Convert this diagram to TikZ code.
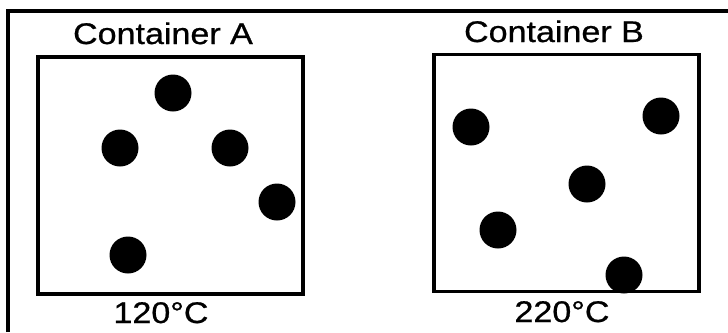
\documentclass[tikz,border=0pt]{standalone}
\usepackage{fontspec}
\setmainfont{Liberation Sans}
\newfontfamily\capfont[FakeBold=0.7]{Liberation Sans}
\usepackage{tikz}
\usetikzlibrary{positioning}
\definecolor{ink}{HTML}{000000}
\newlength{\pxu}
\setlength{\pxu}{0.02cm}
\tikzset{
  frameline/.style={draw=ink,line width=2pt},
  vessel/.style={draw=ink,line width=2pt,inner sep=0pt},
  particle/.style={circle,fill=ink,minimum size=37\pxu,inner sep=0pt},
  caption/.style={font=\capfont\fontsize{17}{19}\selectfont,xscale=1.14,inner sep=0pt,anchor=base}
}

\begin{document}
\begin{tikzpicture}[x=0.02cm,y=-0.02cm]
  \useasboundingbox (0,0) rectangle (728,332);
  % frame (only top and left edge inside the picture)
  \draw[frameline] (8,332) -- (8,11) -- (728,11);
  % particles in container A
  \node[particle] (a1) at (173,93) {};
  \node[particle] (a2) at (120,148) {};
  \node[particle] (a3) at (230,148) {};
  \node[particle] (a4) at (277,202) {};
  \node[particle] (a5) at (128,255) {};
  % particles in container B
  \node[particle] (b1) at (471,127) {};
  \node[particle] (b2) at (661,116) {};
  \node[particle] (b3) at (587,184) {};
  \node[particle] (b4) at (498,230) {};
  \node[particle] (b5) at (624,275) {};
  % containers
  \node[vessel,minimum width=265\pxu,minimum height=237\pxu] (boxA) at (170.5,175.5) {};
  \node[vessel,minimum width=265\pxu,minimum height=237\pxu] (boxB) at (566.5,173) {};
  % labels
  \node[caption] (nameA) at (163,44) {Container A};
  \node[caption] (nameB) at (554,42) {Container B};
  \node[caption] (tempA) at (161,323) {120°C};
  \node[caption] (tempB) at (562,322) {220°C};
\end{tikzpicture}
\end{document}
